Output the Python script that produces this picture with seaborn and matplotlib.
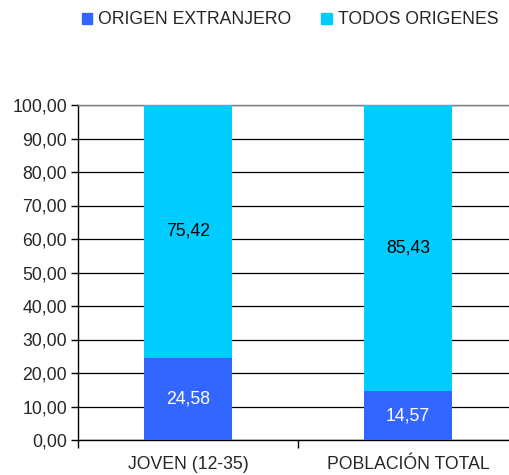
import matplotlib
matplotlib.use("Agg")
import matplotlib.pyplot as plt
import seaborn as sns
import pandas as pd
from matplotlib.patches import Patch
from matplotlib.ticker import FuncFormatter, FixedLocator

# datos
categorias = ["JOVEN (12-35)", "POBLACIÓN TOTAL"]
origen_extranjero = [24.58, 14.57]
todos_origenes = [75.42, 85.43]
series = ["ORIGEN EXTRANJERO", "TODOS ORIGENES"]
colores = ["#3366FF", "#00CCFF"]

sns.set_style("white")
plt.rcParams["font.family"] = ["Liberation Sans", "DejaVu Sans"]
fs = 12.7

df = pd.DataFrame({"cat": categorias,
                   "ext": origen_extranjero,
                   "tod": todos_origenes})
df["total"] = df["ext"] + df["tod"]

fig = plt.figure(figsize=(5.09, 4.75), dpi=100)
ax = fig.add_axes([78 / 509, 35 / 475, 440 / 509, 335 / 475])

# barra apilada: total en celeste, extranjero encima en azul
sns.barplot(data=df, x="cat", y="total", color=colores[1], width=0.4,
            saturation=1, linewidth=0, ax=ax, zorder=3)
sns.barplot(data=df, x="cat", y="ext", color=colores[0], width=0.4,
            saturation=1, linewidth=0, ax=ax, zorder=3)

fmt = lambda v: f"{v:.2f}".replace(".", ",")
for i, row in df.iterrows():
    ax.text(i, row["ext"] / 2, fmt(row["ext"]), ha="center", va="center",
            color="white", fontsize=fs, zorder=4)
    ax.text(i, row["ext"] + row["tod"] / 2, fmt(row["tod"]), ha="center",
            va="center", color="black", fontsize=fs, zorder=4)

ax.set_xlim(-0.5, 1.5)
ax.set_ylim(0, 100)
ax.set_yticks(range(0, 101, 10))
ax.yaxis.set_major_formatter(FuncFormatter(lambda v, p: fmt(v)))
ax.yaxis.grid(True, color="black", linewidth=0.9)
ax.set_axisbelow(True)
ax.set_xlabel("")
ax.set_ylabel("")

ax.xaxis.set_minor_locator(FixedLocator([-0.5, 0.5, 1.5]))
ax.tick_params(axis="x", which="major", bottom=False, labelsize=fs, pad=8)
ax.tick_params(axis="x", which="minor", bottom=True, length=6, width=1,
               color="black", direction="out")
ax.tick_params(axis="y", left=True, length=5, width=1, color="black",
               direction="out", labelsize=fs, pad=3)

for s in ["left", "bottom"]:
    ax.spines[s].set_color("black")
    ax.spines[s].set_linewidth(1)
ax.spines["right"].set_visible(False)
ax.spines["top"].set_color("#808080")
ax.spines["top"].set_linewidth(1)

handles = [Patch(color=c) for c in colores]
fig.legend(handles, series, loc="center", bbox_to_anchor=(0.57, 0.958),
           ncol=2, frameon=False, fontsize=fs, handlelength=0.6,
           handleheight=0.6, handletextpad=0.35, columnspacing=1.7)

fig.savefig("out.png", dpi=100)
